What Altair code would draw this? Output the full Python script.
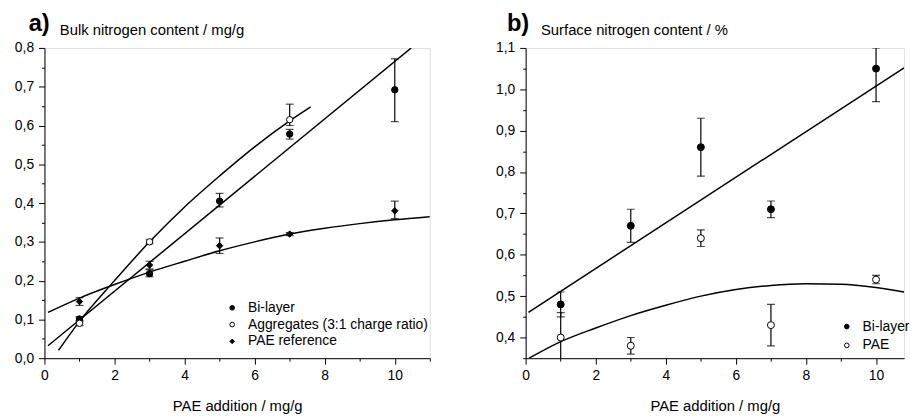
import altair as alt
import pandas as pd

FONT = "Liberation Sans"

# ---------------- Panel a: bulk nitrogen content ----------------
a_x = [1, 3, 5, 7, 10]
a_bi_y = [0.101, 0.218, 0.405, 0.578, 0.692]
a_bi_lo = [0.094, 0.210, 0.390, 0.565, 0.610]
a_bi_hi = [0.107, 0.228, 0.425, 0.590, 0.772]

a_agg_x = [1, 3, 7]
a_agg_y = [0.090, 0.300, 0.615]
a_agg_lo = [0.084, 0.295, 0.600]
a_agg_hi = [0.097, 0.305, 0.655]

a_pae_y = [0.146, 0.240, 0.290, 0.320, 0.380]
a_pae_lo = [0.136, 0.230, 0.270, 0.316, 0.360]
a_pae_hi = [0.156, 0.250, 0.310, 0.324, 0.405]

a_bi_fit_x = [0.1, 10.47]
a_bi_fit_y = [0.032, 0.800]
a_agg_fit_x = [0.4, 1, 2, 3, 4, 5, 6, 7, 7.6]
a_agg_fit_y = [0.020, 0.095, 0.200, 0.300, 0.390, 0.470, 0.545, 0.612, 0.648]
a_pae_fit_x = [0.1, 1, 2, 3, 4, 5, 6, 7, 8, 9, 10, 11]
a_pae_fit_y = [0.118, 0.155, 0.190, 0.222, 0.250, 0.277, 0.300, 0.320, 0.335, 0.347, 0.357, 0.365]

a_series = ["Bi-layer", "Aggregates (3:1 charge ratio)", "PAE reference"]

a_xticks = [0, 1, 2, 3, 4, 5, 6, 7, 8, 9, 10, 11]
a_yticks = [0.0, 0.05, 0.1, 0.15, 0.2, 0.25, 0.3, 0.35, 0.4, 0.45, 0.5, 0.55,
            0.6, 0.65, 0.7, 0.75, 0.8]

# ---------------- Panel b: surface nitrogen content ----------------
b_x = [1, 3, 5, 7, 10]
b_bi_y = [0.48, 0.67, 0.86, 0.71, 1.05]
b_bi_lo = [0.45, 0.63, 0.79, 0.69, 0.97]
b_bi_hi = [0.51, 0.71, 0.93, 0.73, 1.10]

b_pae_y = [0.40, 0.38, 0.64, 0.43, 0.54]
b_pae_lo = [0.34, 0.36, 0.62, 0.38, 0.53]
b_pae_hi = [0.46, 0.40, 0.66, 0.48, 0.55]

b_bi_fit_x = [0.08, 10.8]
b_bi_fit_y = [0.461, 1.052]
b_pae_fit_x = [0.1, 1, 2, 3, 4, 5, 6, 7, 8, 9, 10, 10.8]
b_pae_fit_y = [0.350, 0.390, 0.423, 0.453, 0.478, 0.500, 0.516, 0.526, 0.530, 0.529, 0.521, 0.510]

b_series = ["Bi-layer", "PAE"]

b_xticks = [0, 1, 2, 3, 4, 5, 6, 7, 8, 9, 10]
b_yticks = [0.35, 0.4, 0.45, 0.5, 0.55, 0.6, 0.65, 0.7, 0.75, 0.8, 0.85, 0.9,
            0.95, 1.0, 1.05, 1.1]

X_TITLE = "PAE addition / mg/g"


def frame(xs, ys, los, his, name):
    return pd.DataFrame({"x": xs, "y": ys, "lo": los, "hi": his, "series": name})


def fit(xs, ys, name):
    return pd.DataFrame({"x": xs, "y": ys, "fit": name})


MAJOR_Y = "abs(datum.value*10 - round(datum.value*10)) < 0.001"


def x_axis(values):
    return alt.Axis(
        values=values, title=X_TITLE, titleFont=FONT, titleFontSize=15,
        titleFontWeight="normal", titleColor="black",
        titleBaseline="alphabetic", titleY=53,
        labelExpr="datum.value % 2 == 0 ? datum.label : ''",
        tickSize={"condition": {"test": "datum.value % 2 != 0", "value": 3}, "value": 6},
        labelFont=FONT, labelFontSize=14, labelColor="black", labelPadding=5,
        domainColor="black", tickColor="black", grid=False, labelFlush=False,
        labelOverlap=False,
    )


def y_axis(title, values):
    return alt.Axis(
        values=values, title=title, titleFont=FONT, titleFontSize=15,
        titleFontWeight="normal", titleColor="black", titleAngle=0,
        titleAlign="left", titleBaseline="alphabetic", titleX=15, titleY=-14,
        labelExpr=MAJOR_Y + " ? replace(format(datum.value, '.1f'), '.', ',') : ''",
        tickSize={"condition": {"test": "!(" + MAJOR_Y + ")", "value": 3}, "value": 6},
        labelFont=FONT, labelFontSize=14, labelColor="black", labelPadding=5,
        domainColor="black", tickColor="black", grid=False, labelFlush=False,
        labelOverlap=False,
    )


def panel(points, fits, series, shapes, fills, xdom, ydom, xticks, yticks,
          ytitle, letter, letter_dx, width, leg_x, leg_y, row_pad, msize, clip):
    xs = alt.Scale(domain=xdom, nice=False, zero=False)
    ys = alt.Scale(domain=ydom, nice=False, zero=False)
    xa = x_axis(xticks)
    ya = y_axis(ytitle, yticks)

    def X(f):
        return alt.X(f, type="quantitative", scale=xs, axis=xa)

    def Y(f):
        return alt.Y(f, type="quantitative", scale=ys, axis=ya)

    legend = alt.Legend(
        orient="none", legendX=leg_x, legendY=leg_y, title=None,
        labelFont=FONT, labelFontSize=14, labelColor="black", labelLimit=500,
        symbolSize=22, symbolStrokeWidth=1,
        rowPadding=row_pad, labelOffset=9, padding=0,
    )

    base = alt.Chart(points)
    rules = base.mark_rule(color="black", strokeWidth=1.2, clip=clip).encode(
        x=X("x"), y=Y("lo"), y2="hi:Q")
    cap_lo = base.mark_tick(color="black", orient="horizontal", size=8, thickness=1.2,
                            clip=clip).encode(x=X("x"), y=Y("lo"))
    cap_hi = base.mark_tick(color="black", orient="horizontal", size=8, thickness=1.2,
                            clip=clip).encode(x=X("x"), y=Y("hi"))
    pts = base.mark_point(filled=True, strokeWidth=1, opacity=1,
                          size=msize).encode(
        x=X("x"), y=Y("y"),
        shape=alt.Shape("series:N", scale=alt.Scale(domain=series, range=shapes),
                        sort=series, legend=legend),
        fill=alt.Fill("series:N", scale=alt.Scale(domain=series, range=fills),
                      sort=series, legend=legend),
        stroke=alt.Stroke("series:N", scale=alt.Scale(domain=series,
                                                      range=["black"] * len(series)),
                          sort=series, legend=legend),
    )
    lines = alt.Chart(fits).mark_line(color="black", strokeWidth=1.5,
                                       interpolate="monotone", clip=True).encode(
        x=X("x"), y=Y("y"), detail="fit:N")

    return alt.layer(lines, rules, cap_lo, cap_hi, pts).properties(
        width=width, height=314,
        title=alt.TitleParams(letter, anchor="start", frame="group", fontSize=24,
                              fontWeight="bold", font=FONT, color="black",
                              baseline="alphabetic", offset=0, dx=letter_dx, dy=33),
    )


a_points = pd.concat([
    frame(a_x, a_bi_y, a_bi_lo, a_bi_hi, a_series[0]),
    frame(a_agg_x, a_agg_y, a_agg_lo, a_agg_hi, a_series[1]),
    frame(a_x, a_pae_y, a_pae_lo, a_pae_hi, a_series[2]),
])
a_fits = pd.concat([
    fit(a_bi_fit_x, a_bi_fit_y, "bi"),
    fit(a_agg_fit_x, a_agg_fit_y, "agg"),
    fit(a_pae_fit_x, a_pae_fit_y, "pae"),
])

b_points = pd.concat([
    frame(b_x, b_bi_y, b_bi_lo, b_bi_hi, b_series[0]),
    frame(b_x, b_pae_y, b_pae_lo, b_pae_hi, b_series[1]),
])
b_fits = pd.concat([
    fit(b_bi_fit_x, b_bi_fit_y, "bi"),
    fit(b_pae_fit_x, b_pae_fit_y, "pae"),
])

left = panel(a_points, a_fits, a_series, ["circle", "circle", "diamond"],
             ["black", "white", "black"], [0, 11], [0, 0.8], a_xticks, a_yticks,
             "Bulk nitrogen content / mg/g", "a)", -16, 390, 183, 256, 3, 42, False)
right = panel(b_points, b_fits, b_series, ["circle", "circle"], ["black", "white"],
              [0, 10.8], [0.35, 1.1], b_xticks, b_yticks,
              "Surface nitrogen content / %", "b)", -19, 383, 318, 275, 5, 50, True)

chart = alt.hconcat(left, right, spacing=65).resolve_scale(
    shape="independent", fill="independent", stroke="independent"
).properties(
    padding={"left": 14, "top": 9, "right": 0, "bottom": 0}
).configure_view(stroke=None).configure(font=FONT)

chart.save("out.html", embed_options={"renderer": "svg", "actions": False})
